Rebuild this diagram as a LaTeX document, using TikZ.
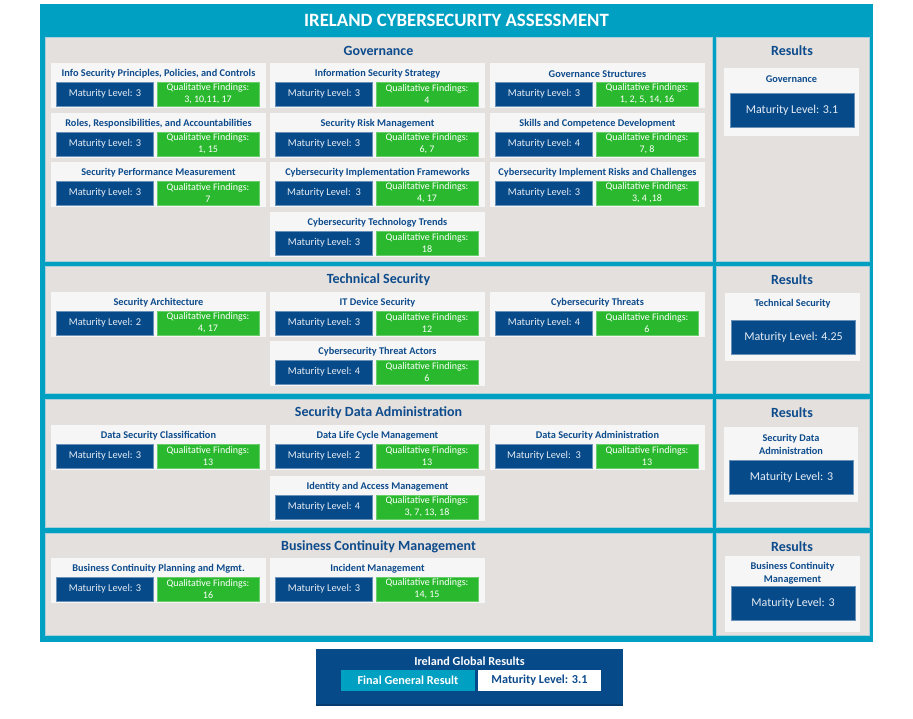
\documentclass[tikz,border=0pt]{standalone}
\usepackage{fontspec}
\setmainfont{Carlito}
\definecolor{frameteal}{HTML}{00A0C2}
\definecolor{panelgray}{HTML}{E3E0DD}
\definecolor{paneledge}{HTML}{A9CFDA}
\definecolor{dblue}{HTML}{064A8A}
\definecolor{fgreen}{HTML}{2AB92E}
\definecolor{boxwhite}{HTML}{F6F6F6}
\definecolor{titleblue}{HTML}{0D4B8C}
\definecolor{mltext}{HTML}{E6ECF3}
\tikzset{
  panel/.style={fill=panelgray, draw=paneledge, line width=0.6pt},
  itembox/.style={fill=boxwhite},
  itemtitle/.style={text=titleblue, font=\fontsize{10.3}{12}\selectfont\bfseries, inner sep=0pt},
  mlbox/.style={fill=dblue, text=mltext, minimum width=97pt, minimum height=24pt, inner sep=0pt, font=\fontsize{10.4}{12}\selectfont, draw=dblue!60!white, line width=0.4pt},
  qfbox/.style={fill=fgreen, text=white, minimum width=102pt, minimum height=24pt, inner sep=0pt, align=center, font=\fontsize{10}{12}\selectfont, draw=fgreen!70!white, line width=0.4pt},
  sectitle/.style={text=titleblue, font=\fontsize{14}{16}\selectfont\bfseries, inner sep=0pt},
  restitle/.style={text=titleblue, font=\fontsize{10.3}{12.5}\selectfont\bfseries, inner sep=0pt, align=center},
  resbox/.style={fill=dblue, text=mltext, minimum width=124pt, minimum height=34pt, inner sep=0pt, font=\fontsize{12}{14}\selectfont, draw=dblue!60!white, line width=0.4pt},
  globtext/.style={font=\fontsize{12.2}{14}\selectfont\bfseries, inner sep=0pt},
}
\newcommand\assess[6]{%
  \fill[itembox] (#2,#3) rectangle ++(215,45);
  \node[itemtitle] (#1t) at ({#2+107.5},{#3+11}) {#4};
  \node[mlbox] (#1m) at ({#2+54},{#3+31}) {#5};
  \node[qfbox] (#1q) at ({#2+157},{#3+31}) {Qualitative Findings:\\#6};
}
\begin{document}
\begin{tikzpicture}[x=1pt,y=-1pt]
\useasboundingbox (0,0) rectangle (913,719);
% outer frame
\fill[frameteal] (40,4) rectangle (873,642);
\node[text=white, font=\fontsize{18.8}{22}\selectfont\bfseries, inner sep=0pt] (title) at (456.5,20) {IRELAND CYBERSECURITY ASSESSMENT};
% panels
\draw[panel] (45,37) rectangle (712,261);
\draw[panel] (716,37) rectangle (869,261);
\draw[panel] (45,266) rectangle (712,393);
\draw[panel] (716,266) rectangle (869,393);
\draw[panel] (45,399) rectangle (712,527);
\draw[panel] (716,399) rectangle (869,527);
\draw[panel] (45,533) rectangle (712,635);
\draw[panel] (716,533) rectangle (869,635);
% ---------- Governance
\node[sectitle] (govtitle) at (378.5,51) {Governance};
\assess{g1}{51}{63}{Info Security Principles, Policies, and Controls}{Maturity Level: 3}{3, 10,11, 17}
\assess{g2}{270}{63}{Information Security Strategy}{Maturity Level: 3}{4}
\assess{g3}{490}{63}{Governance Structures}{Maturity Level: 3}{1, 2, 5, 14, 16}
\assess{g4}{51}{113}{Roles, Responsibilities, and Accountabilities}{Maturity Level: 3}{1, 15}
\assess{g5}{270}{113}{Security Risk Management}{Maturity Level: 3}{6, 7}
\assess{g6}{490}{113}{Skills and Competence Development}{Maturity Level: 4}{7, 8}
\assess{g7}{51}{162}{Security Performance Measurement}{Maturity Level: 3}{7}
\assess{g8}{270}{162}{Cybersecurity Implementation Frameworks}{Maturity Level:\ \ 3}{4, 17}
\assess{g9}{490}{162}{Cybersecurity Implement Risks and Challenges}{Maturity Level: 3}{3, 4 ,18}
\assess{g10}{270}{212}{Cybersecurity Technology Trends}{Maturity Level: 3}{18}
\node[sectitle] (gres) at (792,51) {Results};
\fill[itembox] (724,68) rectangle (859,136);
\node[restitle] (gresname) at (791.5,79) {Governance};
\node[resbox] (gresml) at (792,110) {Maturity Level: 3.1};
% ---------- Technical Security
\node[sectitle] (techtitle) at (378.5,280) {Technical Security};
\assess{t1}{51}{292}{Security Architecture}{Maturity Level: 2}{4, 17}
\assess{t2}{270}{292}{IT Device Security}{Maturity Level: 3}{12}
\assess{t3}{490}{292}{Cybersecurity Threats}{Maturity Level: 4}{6}
\assess{t4}{270}{341}{Cybersecurity Threat Actors}{Maturity Level: 4}{6}
\node[sectitle] (tres) at (792,280) {Results};
\fill[itembox] (725,293) rectangle (860,361);
\node[restitle] (tresname) at (792.5,304) {Technical Security};
\node[resbox] (tresml) at (793.5,337) {Maturity Level: 4.25};
% ---------- Security Data Administration
\node[sectitle] (sdatitle) at (378.5,413) {Security Data Administration};
\assess{s1}{51}{425}{Data Security Classification}{Maturity Level: 3}{13}
\assess{s2}{270}{425}{Data Life Cycle Management}{Maturity Level: 2}{13}
\assess{s3}{490}{425}{Data Security Administration}{Maturity Level:\ \ 3}{13}
\assess{s4}{270}{476}{Identity and Access Management}{Maturity Level: 4}{3, 7, 13, 18}
\node[sectitle] (sres) at (792,413) {Results};
\fill[itembox] (724,427) rectangle (858,502);
\node[restitle] (sresname) at (791,444.5) {Security Data\\Administration};
\node[resbox] (sresml) at (791.5,477) {Maturity Level: 3};
% ---------- Business Continuity Management
\node[sectitle] (bcmtitle) at (378.5,547) {Business Continuity Management};
\assess{b1}{51}{558}{Business Continuity Planning and Mgmt.}{Maturity Level: 3}{16}
\assess{b2}{270}{558}{Incident Management}{Maturity Level: 3}{14, 15}
\node[sectitle] (bres) at (792,547) {Results};
\fill[itembox] (725,556) rectangle (860,632);
\node[restitle] (bresname) at (792.5,573) {Business Continuity\\Management};
\node[resbox] (bresml) at (793,603.5) {Maturity Level: 3};
% ---------- Global results
\fill[dblue!80!black] (316,650) rectangle (623,706);
\fill[dblue] (316,649) rectangle (623,704);
\node[globtext, text=white] (globtitle) at (469.5,661) {Ireland Global Results};
\node[globtext, fill=frameteal, text=white, minimum width=134pt, minimum height=21pt] (final) at (408,680.5) {Final General Result};
\node[globtext, fill=white, text=titleblue, minimum width=123pt, minimum height=21pt] (finalml) at (539.5,680.5) {Maturity Level: 3.1};
\end{tikzpicture}
\end{document}
